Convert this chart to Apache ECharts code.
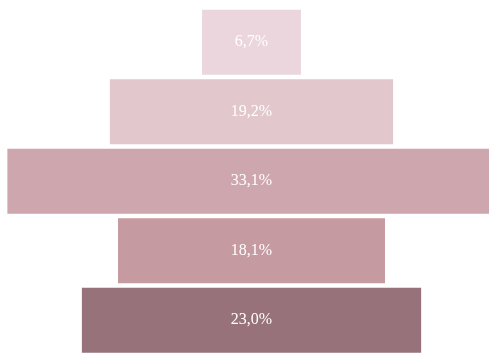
<!DOCTYPE html>
<html><head><meta charset="utf-8">
<script src="https://cdn.jsdelivr.net/npm/echarts@6/dist/echarts.min.js"></script>
<style>html,body{margin:0;padding:0;background:#fff}#c{width:489px;height:355px}</style>
</head><body><div id="c"></div>
<script>
var categories = ['A', 'B', 'C', 'D', 'E'];
var values = [6.7, 19.2, 33.1, 18.1, 23.0];
var colors = ['#ead6dc', '#e2c7cd', '#cea7ae', '#c69aa1', '#98727a'];
var axisMax = 33.15, center = 17.05;
var offsets = values.map(function (v) { return center - v / 2; });
var chart = echarts.init(document.getElementById('c'));
chart.setOption({
  animation: false,
  grid: { left: 0, right: 0, top: 7.5, height: 350 },
  xAxis: { type: 'value', min: 0, max: axisMax, show: false },
  yAxis: { type: 'category', data: categories, inverse: true, show: false },
  series: [
    { type: 'bar', stack: 's', data: offsets, itemStyle: { color: 'transparent' }, barWidth: 65, silent: true, clip: false },
    { type: 'bar', stack: 's', barWidth: 65, clip: false,
      data: values.map(function (v, i) { return { value: v, itemStyle: { color: colors[i] } }; }),
      label: { show: true, position: 'inside', color: '#fff', fontFamily: 'Liberation Serif', fontSize: 16,
        formatter: function (p) { return p.value.toFixed(1).replace('.', ',') + '%'; } } }
  ]
});
</script></body></html>
